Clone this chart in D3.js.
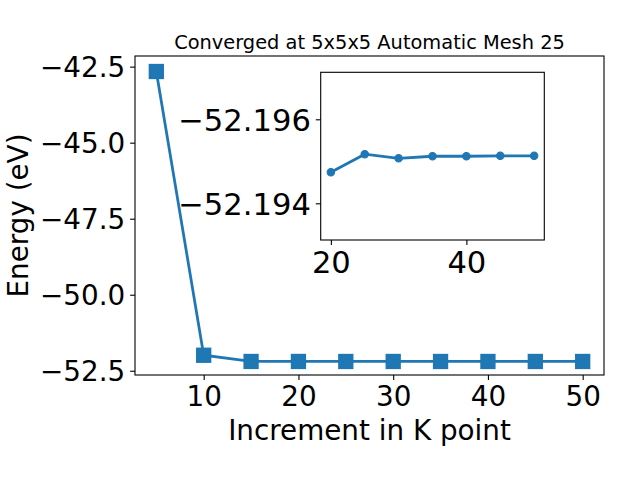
<!DOCTYPE html>
<html><head><meta charset="utf-8">
<script src="https://cdn.jsdelivr.net/npm/d3@7"></script>
<style>body{margin:0;background:#fff}svg{display:block}text{font-family:"DejaVu Sans",sans-serif;fill:#000}</style>
</head><body>
<script>
const kpoints = [5, 10, 15, 20, 25, 30, 35, 40, 45, 50];
const energy = [-42.66, -51.99, -52.1951, -52.19474, -52.19517, -52.19507, -52.19512, -52.19512, -52.19513, -52.19513];
const insetK = [20, 25, 30, 35, 40, 45, 50];
const insetE = [-52.19474, -52.19517, -52.19507, -52.19512, -52.19512, -52.19513, -52.19513];
const mainXTicks = [10, 20, 30, 40, 50];
const mainYTicks = [-52.5, -50.0, -47.5, -45.0, -42.5];
const insetXTicks = [20, 40];
const insetYTicks = [-52.196, -52.194];
const title = "Converged at 5x5x5 Automatic Mesh 25";
const xLabel = "Increment in K point";
const yLabel = "Energy (eV)";

const color = "#1f77b4";
const W = 640, H = 480;
const svg = d3.select("body").append("svg").attr("width", W).attr("height", H);
const minus = s => s.replace("-", "\u2212");

// main axes
const L = 135, R = 604, T = 56, B = 375;
const x = d3.scaleLinear().domain([2.75, 52.25]).range([L, R]);
const y = d3.scaleLinear().domain([-52.64, -42.15]).range([B, T]);

const gx = svg.append("g").attr("transform", `translate(0,${B})`)
  .call(d3.axisBottom(x).tickValues(mainXTicks).tickSize(4.9).tickPadding(4.9).tickFormat(d3.format("d")));
const gy = svg.append("g").attr("transform", `translate(${L},0)`)
  .call(d3.axisLeft(y).tickValues(mainYTicks).tickSize(4.9).tickPadding(4.9).tickFormat(d => minus(d3.format(".1f")(d))));
[gx, gy].forEach(g => {
  g.select(".domain").remove();
  g.selectAll(".tick line").attr("stroke", "#000").attr("stroke-width", 1.1);
  g.selectAll(".tick text").attr("font-size", 27.8).attr("font-family", "DejaVu Sans").attr("fill", "#000");
});
gy.selectAll(".tick text").attr("dy", "0.36em");
gx.selectAll(".tick text").attr("dy", "0.76em");

const line = d3.line().x((d, i) => x(kpoints[i])).y(d => y(d));
svg.append("path").datum(energy).attr("d", line).attr("fill", "none").attr("stroke", color).attr("stroke-width", 2.78);
const ms = 13.9;
svg.selectAll("rect.mk").data(energy).enter().append("rect").attr("class", "mk")
  .attr("x", (d, i) => x(kpoints[i]) - ms / 2).attr("y", d => y(d) - ms / 2)
  .attr("width", ms).attr("height", ms).attr("fill", color).attr("stroke", color).attr("stroke-width", 1.4);

svg.append("rect").attr("x", L).attr("y", T).attr("width", R - L).attr("height", B - T)
  .attr("fill", "none").attr("stroke", "#000").attr("stroke-width", 1.1);

svg.append("text").attr("x", (L + R) / 2).attr("y", 48.5).attr("text-anchor", "middle").attr("font-size", 19.4).text(title);
svg.append("text").attr("x", (L + R) / 2).attr("y", 440).attr("text-anchor", "middle").attr("font-size", 27.8).text(xLabel);
svg.append("text").attr("transform", `translate(28,${(T + B) / 2}) rotate(-90)`).attr("text-anchor", "middle").attr("font-size", 27.8).text(yLabel);

// inset axes
const iL = 320.7, iR = 544.3, iT = 72.3, iB = 240;
const ix = d3.scaleLinear().domain([18.5, 51.5]).range([iL, iR]);
const iy = d3.scaleLinear().domain([-52.196, -52.194]).range([119.3, 203.3]);

svg.append("rect").attr("x", iL).attr("y", iT).attr("width", iR - iL).attr("height", iB - iT).attr("fill", "#fff");
const igx = svg.append("g").attr("transform", `translate(0,${iB})`)
  .call(d3.axisBottom(ix).tickValues(insetXTicks).tickSize(4.9).tickPadding(4.9).tickFormat(d3.format("d")));
const igy = svg.append("g").attr("transform", `translate(${iL},0)`)
  .call(d3.axisLeft(iy).tickValues(insetYTicks).tickSize(4.9).tickPadding(4.9).tickFormat(d => minus(d3.format(".3f")(d))));
[igx, igy].forEach(g => {
  g.select(".domain").remove();
  g.selectAll(".tick line").attr("stroke", "#000").attr("stroke-width", 1.1);
  g.selectAll(".tick text").attr("font-size", 30.6).attr("font-family", "DejaVu Sans").attr("fill", "#000");
});
igy.selectAll(".tick text").attr("dy", "0.36em");
igx.selectAll(".tick text").attr("dy", "0.76em");

const iline = d3.line().x((d, i) => ix(insetK[i])).y(d => iy(d));
svg.append("path").datum(insetE).attr("d", iline).attr("fill", "none").attr("stroke", color).attr("stroke-width", 2.78);
svg.selectAll("circle.mk").data(insetE).enter().append("circle").attr("class", "mk")
  .attr("cx", (d, i) => ix(insetK[i])).attr("cy", d => iy(d)).attr("r", 3.7)
  .attr("fill", color).attr("stroke", color).attr("stroke-width", 1.1);
svg.append("rect").attr("x", iL).attr("y", iT).attr("width", iR - iL).attr("height", iB - iT)
  .attr("fill", "none").attr("stroke", "#000").attr("stroke-width", 1.1);
</script>
</body></html>
